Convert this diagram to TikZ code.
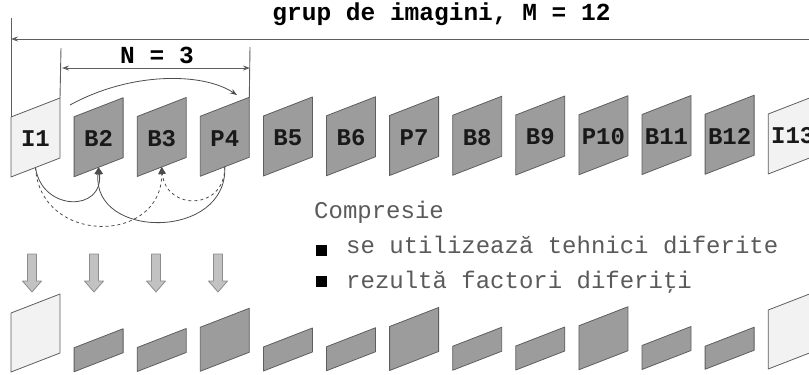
\documentclass[tikz,border=0pt]{standalone}
\usepackage{fontspec}
\setmonofont{Liberation Mono}
\usetikzlibrary{arrows.meta}

\definecolor{framedark}{HTML}{9C9C9C}
\definecolor{framelight}{HTML}{F2F2F2}
\definecolor{edgegray}{HTML}{5E5E5E}
\definecolor{textgray}{HTML}{5A5A5A}
\definecolor{blockfill}{HTML}{C2C2C2}

\begin{document}
\begin{tikzpicture}[x=1pt, y=-1pt,
    font=\ttfamily\fontsize{24}{28}\selectfont,
    frame/.style={draw=edgegray, line width=0.8pt, line join=round},
    framelabel/.style={inner sep=0pt, font=\ttfamily\bfseries\fontsize{24}{28}\selectfont, text=black!90},
    dimline/.style={draw=edgegray, line width=0.9pt},
    dimtip/.style={{Stealth[length=7pt,width=5pt]}-},
    reftip/.style={-{Triangle[length=7pt,width=7pt]}},
    refline/.style={draw=black!70, line width=0.8pt},
    blockarrow/.style={draw=black!45, fill=blockfill, line width=0.8pt, line join=round},
    bodytext/.style={inner sep=0pt, text=textgray, anchor=base west},
    bulletbox/.style={fill=black, inner sep=0pt, minimum size=11pt}]

  \useasboundingbox (0,0) rectangle (809,375);

  % Titlu
  \node[inner sep=0pt, font=\ttfamily\bfseries\fontsize{24.5}{28}\selectfont] (title) at (441.5,14) {grup de imagini, M = 12};

  % Cadrele: sus originale, jos dupa compresie
  \foreach \lab/\tone/\hc [count=\i from 0] in {I1/framelight/59, B2/framedark/24, B3/framedark/24, P4/framedark/44,
      B5/framedark/24, B6/framedark/24, P7/framedark/44, B8/framedark/24, B9/framedark/24,
      P10/framedark/44, B11/framedark/24, B12/framedark/23, I13/framelight/59} {
    \pgfmathsetmacro{\xl}{11+63.1*\i}
    \pgfmathsetmacro{\yt}{117-0.25*\i}
    \pgfmathsetmacro{\yb}{372-0.25*\i}
    \coordinate (tl\i) at (\xl,\yt);
    \coordinate (tr\i) at (\xl+49,\yt-19);
    \coordinate (bot\i) at (\xl+24.5,\yt+50.5);
    \draw[frame, fill=\tone] (tl\i) -- (tr\i) -- ++(0,60) -- ++(-49,19) -- cycle;
    \node[framelabel] (lab\i) at (\xl+24.5,\yt+22) {\lab};
    \draw[frame, fill=\tone] (\xl,\yb) -- ++(0,-\hc) -- ++(49,-19) -- ++(0,\hc) -- cycle;
  }

  % Cota M
  \coordinate (mtop) at (11,18);
  \coordinate (mleft) at (11,39);
  \coordinate (mright) at (820,39);
  \draw[dimline] (mtop) -- (tl0);
  \draw[dimline, dimtip] (mleft) -- (mright);

  % Cota N
  \coordinate (ntopl) at (61,48);
  \coordinate (ntopr) at (250,47);
  \coordinate (nleft) at (62,68);
  \coordinate (nright) at (250,68);
  \draw[dimline] (ntopl) -- (tr0);
  \draw[dimline] (ntopr) -- (tr3);
  \draw[dimline, {Stealth[length=7pt,width=5pt]}-{Stealth[length=7pt,width=5pt]}] (nleft) -- (nright);
  \node[inner sep=0pt, font=\ttfamily\bfseries\fontsize{24.5}{28}\selectfont] (nlab) at (157,55) {N = 3};

  % Ordinea de transmisie
  \coordinate (fwdS) at (70,105);
  \coordinate (fwdE) at (237,95);
  \draw[refline, -{Stealth[length=7pt,width=5pt]}] (fwdS) .. controls (130,72) and (202,72) .. (fwdE);

  % Referinte de predictie
  \draw[refline, reftip] (bot0) .. controls (42,212) and (104,212) .. (bot1);
  \draw[refline, reftip] (bot3) .. controls (228,240) and (92,240) .. (bot1);
  \draw[refline, dashed, reftip] (bot0) .. controls (40,245) and (162,245) .. (bot2);
  \draw[refline, dashed, reftip] (bot3) .. controls (225,211) and (166,211) .. (bot2);

  % Sageti de compresie
  \foreach \i in {0,...,3} {
    \pgfmathsetmacro{\xc}{32+62*\i}
    \draw[blockarrow] (\xc-4.5,254) -- (\xc+4.5,254) -- (\xc+4.5,281) -- (\xc+9.5,281)
      -- (\xc,292) -- (\xc-9.5,281) -- (\xc-4.5,281) -- cycle;
  }

  % Text
  \node[bodytext] (comp) at (314,218) {Compresie};
  \node[bulletbox] (bul1) at (321,250) {};
  \node[bodytext] (txt1) at (346,253) {se utilizează tehnici diferite};
  \node[bulletbox] (bul2) at (321,281) {};
  \node[bodytext] (txt2) at (346,288) {rezultă factori diferiţi};

\end{tikzpicture}
\end{document}
